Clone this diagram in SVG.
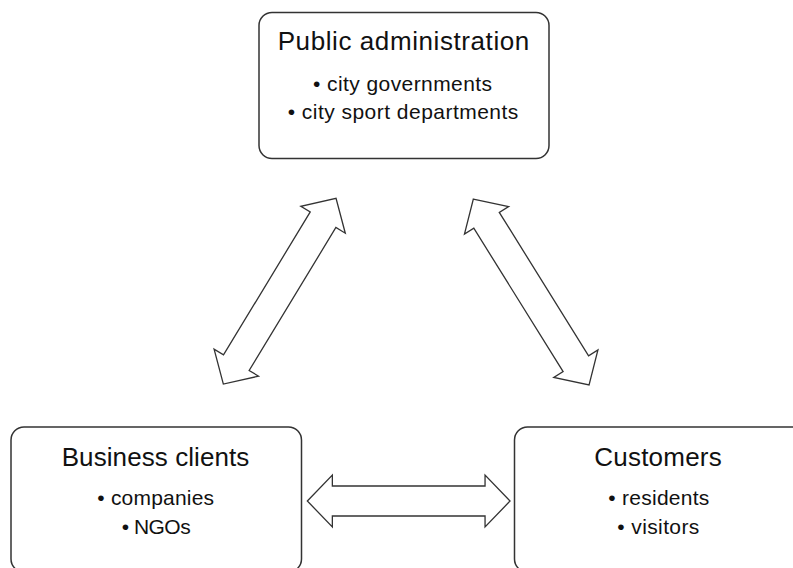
<svg xmlns="http://www.w3.org/2000/svg" width="793" height="568" viewBox="0 0 793 568">
  <style>
    .box { fill: #ffffff; stroke: #333333; stroke-width: 1.5; }
    .title { font-family: "Liberation Sans", Arial, sans-serif; font-size: 26px; fill: #111111; text-anchor: middle; }
    .item { font-family: "Liberation Sans", Arial, sans-serif; font-size: 21px; fill: #111111; text-anchor: middle; }
    .arrow { fill: #ffffff; stroke: #333333; stroke-width: 1.3; stroke-linejoin: miter; }
  </style>
  <rect width="793" height="568" fill="#ffffff"/>

  <!-- double-headed block arrows -->
  <g id="connectors">
    <path class="arrow" transform="translate(279.7 291.2) rotate(-58.75)"
          d="M-108.6,0 L-83.6,-26 L-83.6,-15 L83.6,-15 L83.6,-26 L108.6,0 L83.6,26 L83.6,15 L-83.6,15 L-83.6,26 Z"/>
    <path class="arrow" transform="translate(531.2 292) rotate(58.1)"
          d="M-109.5,0 L-84.5,-26 L-84.5,-15 L84.5,-15 L84.5,-26 L109.5,0 L84.5,26 L84.5,15 L-84.5,15 L-84.5,26 Z"/>
    <path class="arrow" transform="translate(408.7 501)"
          d="M-101.35,0 L-76.35,-26 L-76.35,-15 L76.35,-15 L76.35,-26 L101.35,0 L76.35,26 L76.35,15 L-76.35,15 L-76.35,26 Z"/>
  </g>

  <g id="public-administration">
    <rect class="box" x="259" y="12.5" width="290" height="146" rx="13"/>
    <text class="title" x="403.5" y="50" textLength="251.6">Public administration</text>
    <text class="item" x="402.5" y="91" textLength="179">• city governments</text>
    <text class="item" x="403" y="118.5" textLength="230.6">• city sport departments</text>
  </g>

  <g id="business-clients">
    <rect class="box" x="11" y="427" width="290.5" height="145" rx="13"/>
    <text class="title" x="155.5" y="466" textLength="187.6">Business clients</text>
    <text class="item" x="155.7" y="505" textLength="116.7">• companies</text>
    <text class="item" x="156.2" y="534" textLength="69">• NGOs</text>
  </g>

  <g id="customers">
    <rect class="box" x="514.5" y="427" width="290" height="145" rx="13"/>
    <text class="title" x="658" y="466" textLength="127.4">Customers</text>
    <text class="item" x="658.8" y="505" textLength="101">• residents</text>
    <text class="item" x="658.3" y="534" textLength="82">• visitors</text>
  </g>
</svg>
